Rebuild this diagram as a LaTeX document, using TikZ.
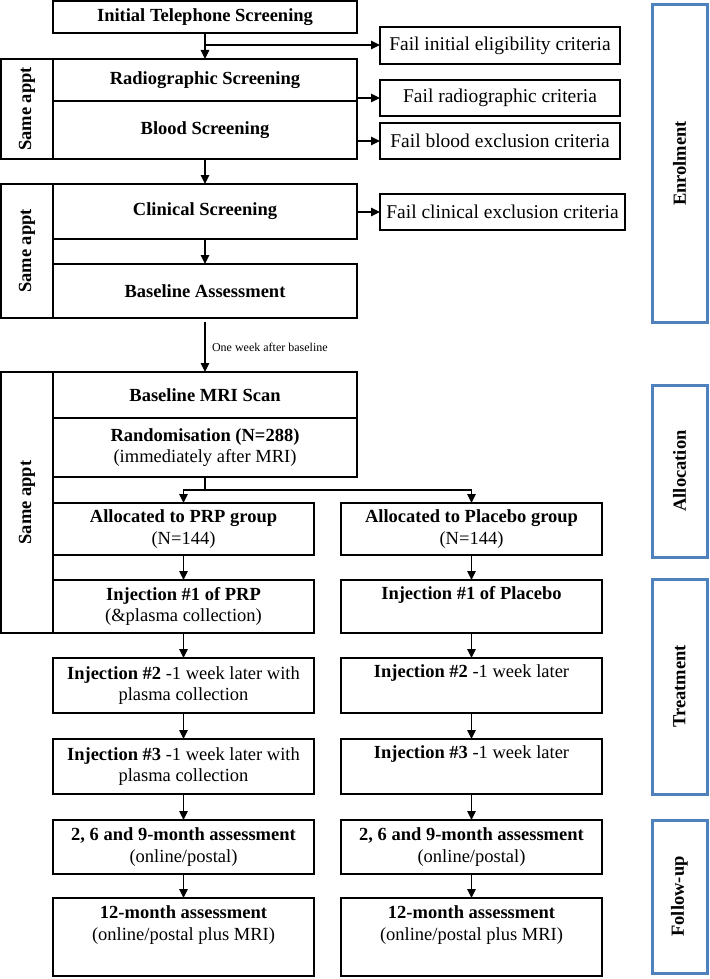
\documentclass[tikz,border=0pt]{standalone}
\usepackage{fontspec}
\setmainfont{Liberation Serif}
\usetikzlibrary{arrows.meta,calc}
\definecolor{phaseblue}{RGB}{79,129,189}
\tikzset{
  box/.style={draw=black, line width=1.5pt, rectangle, inner sep=0pt, outer sep=0pt, align=center,
    font=\fontsize{18.5}{21.5}\selectfont},
  failbox/.style={box, font=\fontsize{19.5}{22}\selectfont},
  sidebox/.style={box},
  sidelabel/.style={font=\fontsize{18.5}{21.5}\selectfont\bfseries, rotate=90},
  phasebox/.style={draw=phaseblue, line width=3pt, rectangle, inner sep=0pt, outer sep=0pt},
  arrow/.style={draw=black, line width=1.5pt, -{Triangle[length=9pt,width=8.5pt]}},
  conn/.style={draw=black, line width=1.5pt},
}
\begin{document}
\begin{tikzpicture}[x=1pt,y=-1pt]
\useasboundingbox (0,0) rectangle (709,979);

% Enrolment column
\node[box, minimum width=304, minimum height=32] (tel) at (205,17) {\textbf{Initial Telephone Screening}};
\node[failbox, minimum width=240, minimum height=37] (fail1) at (500,45.5) {Fail initial eligibility criteria};
\node[sidebox, minimum width=52, minimum height=100] (same1) at (27,109) {};
\node[sidelabel] (same1t) at (same1.center) {Same appt};
\node[box, minimum width=304, minimum height=42] (radio) at (205,80) {\textbf{Radiographic Screening}};
\node[box, minimum width=304, minimum height=58] (blood) at (205,130) {\textbf{Blood Screening}};
\node[failbox, minimum width=240, minimum height=36] (failr) at (500,98) {Fail radiographic criteria};
\node[failbox, minimum width=240, minimum height=36] (failb) at (500,141) {Fail blood exclusion criteria};

\node[sidebox, minimum width=52, minimum height=134] (same2) at (27,251) {};
\node[sidelabel] (same2t) at (same2.center) {Same appt};
\node[box, minimum width=304, minimum height=55] (clin) at (205,211.5) {\textbf{Clinical Screening}};
\node[box, minimum width=304, minimum height=54] (base) at (205,291) {\textbf{Baseline Assessment}};
\node[failbox, minimum width=245, minimum height=36] (failc) at (502.5,212) {Fail clinical exclusion criteria};

% Allocation
\node[sidebox, minimum width=52, minimum height=261] (same3) at (27,502.5) {};
\node[sidelabel] (same3t) at (same3.center) {Same appt};
\node[box, minimum width=304, minimum height=46] (mri) at (205,395) {\textbf{Baseline MRI Scan}};
\node[box, minimum width=304, minimum height=59] (rand) at (205,447.5) {\textbf{Randomisation (N=288)}\\(immediately after MRI)};

\node[box, minimum width=261, minimum height=52] (prp) at (183.5,529) {\textbf{Allocated to PRP group}\\(N=144)};
\node[box, minimum width=261, minimum height=52] (plc) at (471.5,529) {\textbf{Allocated to Placebo group}\\(N=144)};

% Treatment
\node[box, minimum width=261, minimum height=53] (inj1l) at (183.5,606.5) {\textbf{Injection \#1 of PRP}\\(\&plasma collection)};
\node[box, minimum width=261, minimum height=53] (inj1r) at (471.5,606.5) {\textbf{Injection \#1 of Placebo}\\\strut};
\node[box, minimum width=261, minimum height=55] (inj2l) at (183.5,685.5) {\textbf{Injection \#2} -1 week later with\\plasma collection};
\node[box, minimum width=261, minimum height=55] (inj2r) at (471.5,685.5) {\textbf{Injection \#2} -1 week later\\\strut};
\node[box, minimum width=261, minimum height=55] (inj3l) at (183.5,766.5) {\textbf{Injection \#3} -1 week later with\\plasma collection};
\node[box, minimum width=261, minimum height=55] (inj3r) at (471.5,766.5) {\textbf{Injection \#3} -1 week later\\\strut};

% Follow-up
\node[box, minimum width=261, minimum height=54] (m269l) at (183.5,847) {\textbf{2, 6 and 9-month assessment}\\(online/postal)};
\node[box, minimum width=261, minimum height=54] (m269r) at (471.5,847) {\textbf{2, 6 and 9-month assessment}\\(online/postal)};
\node[box, minimum width=261, minimum height=78] (m12l) at (183.5,937) {\textbf{12-month assessment}\\(online/postal plus MRI)\\\strut};
\node[box, minimum width=261, minimum height=78] (m12r) at (471.5,937) {\textbf{12-month assessment}\\(online/postal plus MRI)\\\strut};

% Phase boxes
\node[phasebox, minimum width=55, minimum height=317] (enrol) at (679.5,163.5) {};
\node[sidelabel] (enrolt) at (enrol.center) {Enrolment};
\node[phasebox, minimum width=55, minimum height=172] (alloc) at (679.5,471) {};
\node[sidelabel] (alloct) at (alloc.center) {Allocation};
\node[phasebox, minimum width=55, minimum height=215] (treat) at (679.5,686.5) {};
\node[sidelabel] (treatt) at (treat.center) {Treatment};
\node[phasebox, minimum width=55, minimum height=153] (follow) at (679.5,896.5) {};
\node[sidelabel] (followt) at (follow.center) {Follow-up};

% Connectors
\draw[arrow] (tel.south) -- (radio.north);
\coordinate (b1) at ($(tel.south)+(0,12)$);
\draw[arrow] (b1) -- (fail1.west |- b1);
\draw[arrow] (radio.east |- failr.west) -- (failr.west);
\draw[arrow] (blood.east |- failb.west) -- (failb.west);
\draw[arrow] (blood.south) -- (clin.north);
\draw[arrow] (clin.east |- failc.west) -- (failc.west);
\draw[arrow] (clin.south) -- (base.north);
\draw[arrow] ($(base.south)+(0,4)$) -- node[right, xshift=3pt, font=\fontsize{12}{14}\selectfont] (owlab) {One week after baseline} (mri.north);
\coordinate (split) at ($(rand.south)+(0,13)$);
\draw[conn] (rand.south) -- (split);
\draw[arrow] (split) -| (prp.north);
\draw[arrow] (split) -| (plc.north);
\draw[arrow] (prp.south) -- (inj1l.north);
\draw[arrow] (plc.south) -- (inj1r.north);
\draw[arrow] (inj1l.south) -- (inj2l.north);
\draw[arrow] (inj1r.south) -- (inj2r.north);
\draw[arrow] (inj2l.south) -- (inj3l.north);
\draw[arrow] (inj2r.south) -- (inj3r.north);
\draw[arrow] (inj3l.south) -- (m269l.north);
\draw[arrow] (inj3r.south) -- (m269r.north);
\draw[arrow] (m269l.south) -- (m12l.north);
\draw[arrow] (m269r.south) -- (m12r.north);
\end{tikzpicture}
\end{document}
